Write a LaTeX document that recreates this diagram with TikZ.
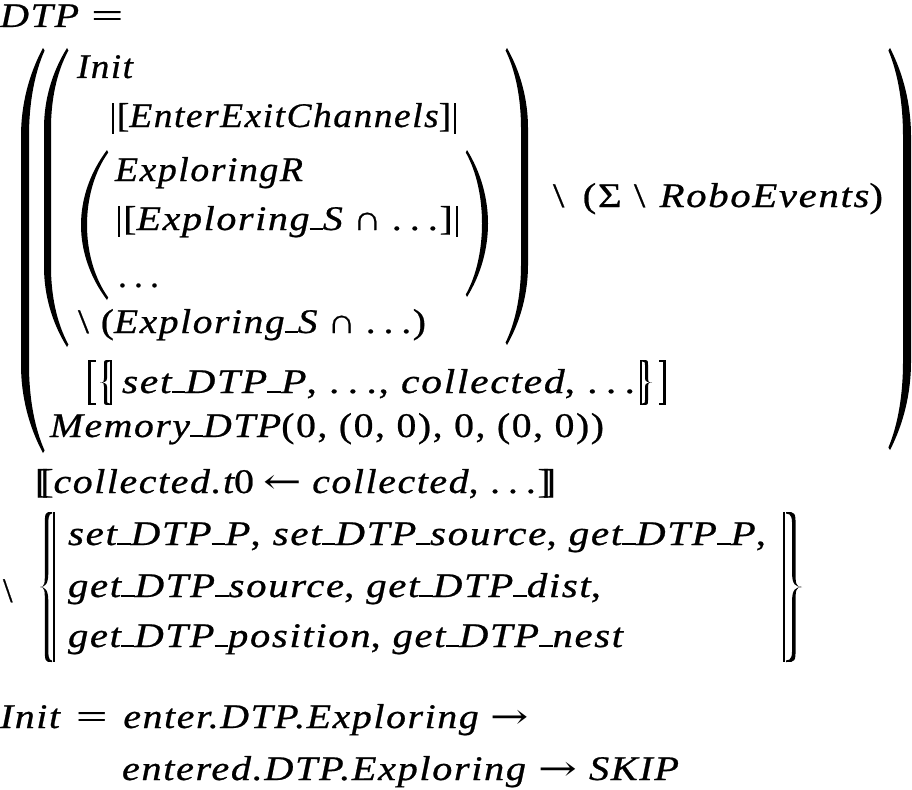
\documentclass[tikz,border=0pt]{standalone}
\usepackage{fontspec}
\usepackage{graphicx}
\setmainfont{Liberation Serif}[LetterSpace=4,FakeBold=0.6]
\newfontfamily\lsp{Liberation Serif}[LetterSpace=4,FakeBold=0.6]
\newfontfamily\dv{DejaVu Serif}
\newcommand\I[1]{{\lsp\itshape #1}}
\newcommand\fit[2]{\resizebox{#1}{\height}{#2}}
\newcommand\us{\rule{0.33em}{0.055em}}
\newcommand\dd{.\hspace{0.2em}.\hspace{0.2em}.}
\newcommand\weq{\scalebox{1.4}[1]{=}}
\newcommand\ra{{\dv\scalebox{1.15}[1]{→}}}
\newcommand\la{{\dv\scalebox{1.15}[1]{←}}}
\newcommand\lpr{\rule[-0.2em]{0.05em}{0.9em}\hspace{0.08em}[}
\newcommand\rpr{]\hspace{0.08em}\rule[-0.2em]{0.05em}{0.9em}}
\newcommand\llb{[\kern-0.2em[}
\newcommand\rrb{]\kern-0.2em]}
\newcommand\mkparen[6]{%
 \fill (#1,#3) .. controls ({#2+0.35*(#1-(#2))},{#3+0.3*#5}) and (#2,{#3+0.65*#5}) .. (#2,{#3+#5})
 -- (#2,{#4-#5}) .. controls (#2,{#4-0.65*#5}) and ({#2+0.35*(#1-(#2))},{#4-0.3*#5}) .. (#1,#4)
 -- ({#1+0.2*(#6)},{#4-2.5}) .. controls ({#2+(#6)+0.35*(#1-(#2)-(#6))},{#4-0.3*#5}) and ({#2+(#6)},{#4-0.65*#5}) .. ({#2+(#6)},{#4-#5})
 -- ({#2+(#6)},{#3+#5}) .. controls ({#2+(#6)},{#3+0.65*#5}) and ({#2+(#6)+0.35*(#1-(#2)-(#6))},{#3+0.3*#5}) .. ({#1+0.2*(#6)},{#3+2.5}) -- cycle;}
\newcommand\mkbrace[5]{%
 \pgfmathsetmacro\Bs{#1+0.6*(#2-(#1))}%
 \pgfmathsetmacro\Bi{\Bs+(#5)}%
 \pgfmathsetmacro\Bm{(#3+#4)/2}%
 \pgfmathsetmacro\Br{0.11*(#4-(#3))}%
 \pgfmathsetmacro\Bq{0.09*(#4-(#3))}%
 \fill (#1,#3) .. controls (\Bs,#3) and (\Bs,#3) .. (\Bs,{#3+\Br})
 -- (\Bs,{\Bm-\Bq}) .. controls (\Bs,{\Bm-0.3*\Bq}) and (\Bs,\Bm) .. (#2,\Bm)
 .. controls (\Bs,\Bm) and (\Bs,{\Bm+0.3*\Bq}) .. (\Bs,{\Bm+\Bq})
 -- (\Bs,{#4-\Br}) .. controls (\Bs,#4) and (\Bs,#4) .. (#1,#4)
 -- (#1,{#4-1.5}) .. controls (\Bi,{#4-1.5}) and (\Bi,{#4-0.4*\Br}) .. (\Bi,{#4-\Br})
 -- (\Bi,{\Bm+\Bq}) .. controls (\Bi,{\Bm+0.2*\Bq}) and (\Bs,\Bm) .. (#2,\Bm)
 .. controls (\Bs,\Bm) and (\Bi,{\Bm-0.2*\Bq}) .. (\Bi,{\Bm-\Bq})
 -- (\Bi,{#3+\Br}) .. controls (\Bi,{#3+0.4*\Br}) and (\Bi,{#3+1.5}) .. (#1,{#3+1.5}) -- cycle;}
\tikzset{T/.style={anchor=base west, inner sep=0pt, outer sep=0pt, font=\fontsize{34.5}{40}\selectfont}}
\begin{document}
\begin{tikzpicture}[x=1pt,y=-1pt]
\path[use as bounding box, fill=white] (0,0) rectangle (912,789);
% text lines
\node[T] (dtp) at (0,27) {\fit{123pt}{\I{DTP}\hspace{0.3em}\weq}};
\node[T] (init) at (77,78) {\fit{56pt}{\I{Init}}};
\node[T] (eec) at (112,127) {\fit{344pt}{\lpr\I{EnterExitChannels}\rpr}};
\node[T] (exr) at (115,181) {\fit{188pt}{\I{ExploringR}}};
\node[T] (exs) at (118,230) {\fit{340pt}{\lpr\I{Exploring\us S}\hspace{0.25em}∩\hspace{0.25em}\dd\rpr}};
\node[T] (dots) at (118,287) {\fit{41pt}{\dd}};
\node[T] (hide1) at (78,333) {\fit{348pt}{\textbackslash\hspace{0.3em}(\I{Exploring\us S}\hspace{0.25em}∩\hspace{0.25em}\dd)}};
\node[T] (hide2) at (553,207) {\fit{330pt}{\textbackslash\hspace{0.45em}(Σ\hspace{0.3em}\textbackslash\hspace{0.35em}\I{RoboEvents})}};
\node[T] (ren) at (122,393) {\fit{513pt}{\I{set\us DTP\us P}, \dd, \I{collected}, \dd}};
\node[T] (mem) at (50,437) {\fit{554pt}{\I{Memory\us DTP}(0, (0, 0), 0, (0, 0))}};
\node[T] (coll) at (35,493) {\fit{521pt}{\llb\I{collected.t}0\hspace{0.25em}\la\hspace{0.25em}\I{collected}, \dd\rrb}};
\node[T] (bs) at (3,602) {\textbackslash};
\node[T] (s1) at (68,545) {\fit{698pt}{\I{set\us DTP\us P}, \I{set\us DTP\us source}, \I{get\us DTP\us P},}};
\node[T] (s2) at (68,597) {\fit{533pt}{\I{get\us DTP\us source}, \I{get\us DTP\us dist},}};
\node[T] (s3) at (68,647) {\fit{555pt}{\I{get\us DTP\us position}, \I{get\us DTP\us nest}}};
\node[T] (i1) at (0,728) {\fit{529pt}{\I{Init}\hspace{0.4em}\weq\hspace{0.4em}\I{enter.DTP.Exploring}\hspace{0.3em}\ra}};
\node[T] (i2) at (122,780) {\fit{557pt}{\I{entered.DTP.Exploring}\hspace{0.3em}\ra\hspace{0.3em}\I{SKIP}}};
% parentheses
\mkparen{43}{21}{48}{453}{88}{8}
\mkparen{890}{911}{48}{450}{88}{-8}
\mkparen{67}{44}{48}{347}{80}{7}
\mkparen{507}{528}{48}{345}{80}{-7}
\mkparen{107}{81}{150}{300}{75}{6}
\mkparen{467}{488}{150}{297}{73.5}{-6}
% rename brackets
\fill (88,360) rectangle (90.6,405);
\fill (88,360) rectangle (95.5,361.6);
\fill (88,403.4) rectangle (95.5,405);
\mkbrace{110}{100}{360}{405}{3}
\fill (110,360) rectangle (112,405);
\fill (640,360) rectangle (642,405);
\mkbrace{642}{652}{360}{405}{-3}
\fill (663.4,360) rectangle (666,405);
\fill (658.5,360) rectangle (666,361.6);
\fill (658.5,403.4) rectangle (666,405);
% set braces
\mkbrace{52}{40}{512}{662}{3.5}
\fill (52.6,512) rectangle (55,662);
\fill (783,512) rectangle (785.4,662);
\mkbrace{786}{802}{512}{662}{-3.5}
\end{tikzpicture}
\end{document}
